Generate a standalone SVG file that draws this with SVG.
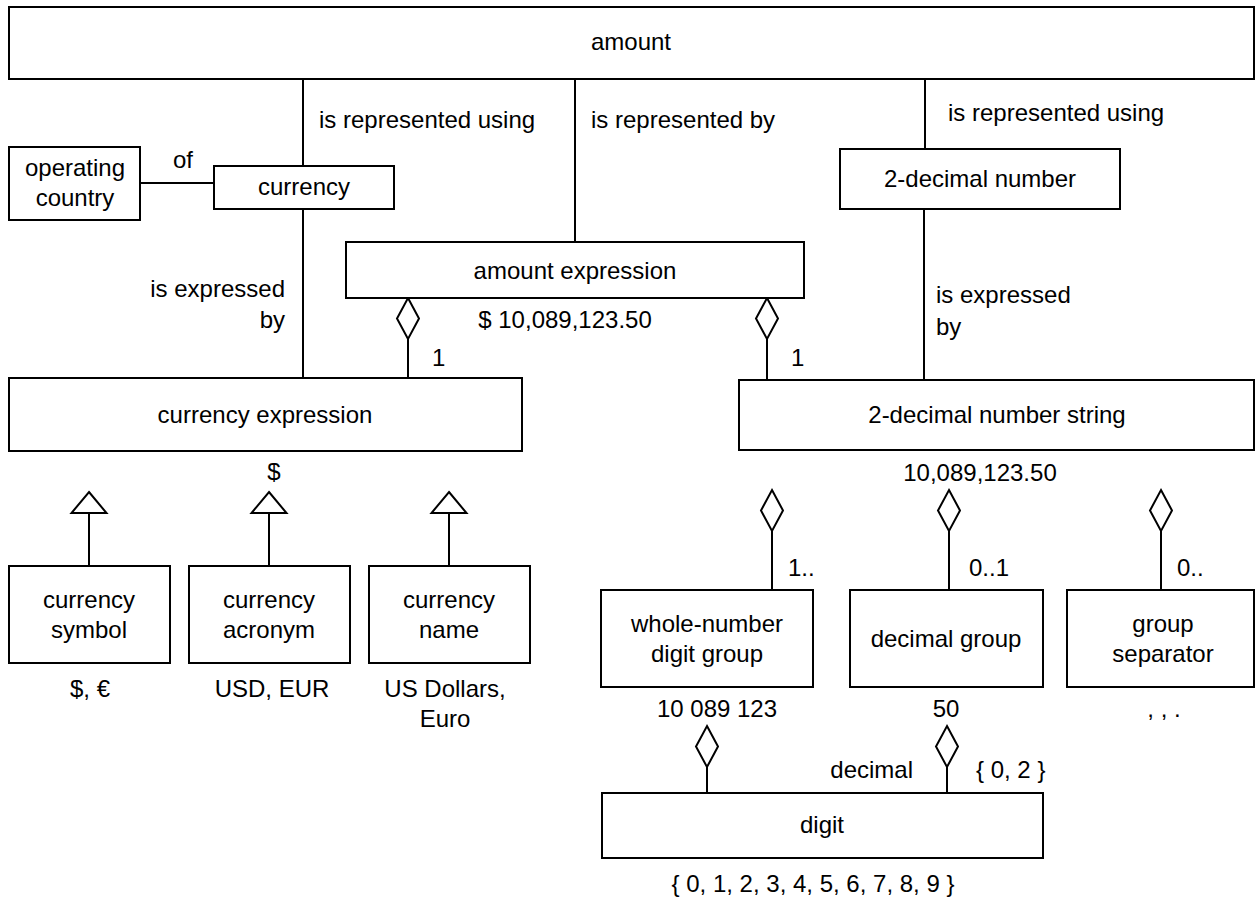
<svg xmlns="http://www.w3.org/2000/svg" width="1256" height="899" viewBox="0 0 1256 899">
<style>
.box{fill:#fff;stroke:#000;stroke-width:2}
.ln{fill:none;stroke:#000;stroke-width:2}
.dia{fill:#fff;stroke:#000;stroke-width:2}
text{font-family:"Liberation Sans",Arial,sans-serif;font-size:24px;fill:#000}
.c{text-anchor:middle}
.e{text-anchor:end}
</style>
<defs>
<polygon id="dmd" points="0,0 11,20.5 0,41 -11,20.5" class="dia"/>
<polygon id="tri" points="0,0 17.5,21 -17.5,21" class="dia"/>
</defs>
<rect width="1256" height="899" fill="#fff"/>
<g id="connectors">
<line class="ln" x1="303" y1="79" x2="303" y2="166"/>
<line class="ln" x1="575" y1="79" x2="575" y2="242"/>
<line class="ln" x1="925" y1="79" x2="925" y2="149"/>
<line class="ln" x1="140" y1="183" x2="214" y2="183"/>
<line class="ln" x1="303" y1="209" x2="303" y2="378"/>
<line class="ln" x1="924" y1="209" x2="924" y2="380"/>
<line class="ln" x1="408" y1="339" x2="408" y2="378"/>
<use href="#dmd" x="408" y="298"/>
<line class="ln" x1="767" y1="339" x2="767" y2="380"/>
<use href="#dmd" x="767" y="298"/>
<line class="ln" x1="89" y1="513" x2="89" y2="566"/>
<use href="#tri" x="89" y="492"/>
<line class="ln" x1="269" y1="513" x2="269" y2="566"/>
<use href="#tri" x="269" y="492"/>
<line class="ln" x1="449" y1="513" x2="449" y2="566"/>
<use href="#tri" x="449" y="492"/>
<line class="ln" x1="772" y1="531" x2="772" y2="590"/>
<use href="#dmd" x="772" y="490"/>
<line class="ln" x1="949" y1="531" x2="949" y2="590"/>
<use href="#dmd" x="949" y="490"/>
<line class="ln" x1="1161" y1="531" x2="1161" y2="590"/>
<use href="#dmd" x="1161" y="490"/>
<line class="ln" x1="707" y1="767" x2="707" y2="793"/>
<use href="#dmd" x="707" y="726"/>
<line class="ln" x1="947" y1="767" x2="947" y2="793"/>
<use href="#dmd" x="947" y="726"/>
<text x="319" y="128">is represented using</text>
<text x="591" y="128">is represented by</text>
<text x="948" y="121">is represented using</text>
<text x="173" y="168">of</text>
<text class="e" x="285" y="297">is expressed</text>
<text class="e" x="285" y="328">by</text>
<text x="936" y="303">is expressed</text>
<text x="936" y="335">by</text>
<text x="432" y="366">1</text>
<text x="791" y="366">1</text>
<text x="788" y="576">1..</text>
<text x="969" y="576">0..1</text>
<text x="1177" y="576">0..</text>
<text class="e" x="913" y="778">decimal</text>
<text x="976" y="778">{ 0, 2 }</text>
</g>
<g id="amount">
<rect class="box" x="9" y="7" width="1245" height="72"/>
<text class="c" x="631" y="50">amount</text>
</g>
<g id="operating-country">
<rect class="box" x="9" y="147" width="131" height="73"/>
<text class="c" x="75" y="176">operating</text>
<text class="c" x="75" y="206">country</text>
</g>
<g id="currency">
<rect class="box" x="214" y="166" width="180" height="43"/>
<text class="c" x="304" y="195">currency</text>
</g>
<g id="two-decimal-number">
<rect class="box" x="840" y="149" width="280" height="60"/>
<text class="c" x="980" y="187">2-decimal number</text>
</g>
<g id="amount-expression">
<rect class="box" x="346" y="242" width="458" height="56"/>
<text class="c" x="575" y="279">amount expression</text>
<text class="c" x="565" y="328">$ 10,089,123.50</text>
</g>
<g id="currency-expression">
<rect class="box" x="9" y="378" width="513" height="73"/>
<text class="c" x="265" y="423">currency expression</text>
<text class="c" x="274" y="480">$</text>
</g>
<g id="two-decimal-number-string">
<rect class="box" x="739" y="380" width="515" height="70"/>
<text class="c" x="997" y="423">2-decimal number string</text>
<text class="c" x="980" y="481">10,089,123.50</text>
</g>
<g id="currency-symbol">
<rect class="box" x="9" y="566" width="161" height="97"/>
<text class="c" x="89" y="608">currency</text>
<text class="c" x="89" y="638">symbol</text>
<text class="c" x="90" y="697">$, €</text>
</g>
<g id="currency-acronym">
<rect class="box" x="189" y="566" width="161" height="97"/>
<text class="c" x="269" y="608">currency</text>
<text class="c" x="269" y="638">acronym</text>
<text class="c" x="272" y="697">USD, EUR</text>
</g>
<g id="currency-name">
<rect class="box" x="369" y="566" width="161" height="97"/>
<text class="c" x="449" y="608">currency</text>
<text class="c" x="449" y="638">name</text>
<text class="c" x="445" y="697">US Dollars,</text>
<text class="c" x="445" y="727">Euro</text>
</g>
<g id="whole-number-digit-group">
<rect class="box" x="601" y="590" width="212" height="97"/>
<text class="c" x="707" y="632">whole-number</text>
<text class="c" x="707" y="662">digit group</text>
<text class="c" x="717" y="717">10 089 123</text>
</g>
<g id="decimal-group">
<rect class="box" x="850" y="590" width="193" height="97"/>
<text class="c" x="946" y="647">decimal group</text>
<text class="c" x="946" y="717">50</text>
</g>
<g id="group-separator">
<rect class="box" x="1067" y="590" width="187" height="97"/>
<text class="c" x="1163" y="632">group</text>
<text class="c" x="1163" y="662">separator</text>
<text class="c" x="1164" y="717">, , .</text>
</g>
<g id="digit">
<rect class="box" x="602" y="793" width="441" height="65"/>
<text class="c" x="822" y="833">digit</text>
<text class="c" x="813" y="892">{ 0, 1, 2, 3, 4, 5, 6, 7, 8, 9 }</text>
</g>
</svg>
